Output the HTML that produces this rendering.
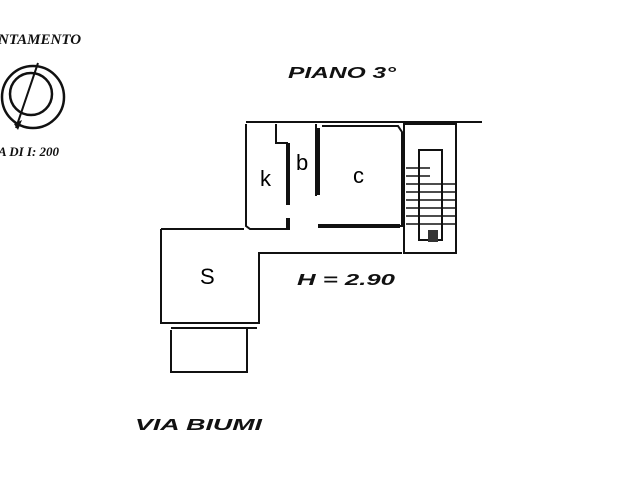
<!DOCTYPE html>
<html><head><style>
html,body{margin:0;padding:0;background:#fff;width:640px;height:480px;overflow:hidden}
svg{display:block}
</style></head><body>
<svg width="640" height="480" viewBox="0 0 640 480" xmlns="http://www.w3.org/2000/svg">
<g font-family="Liberation Serif, serif" font-style="italic" font-weight="bold" fill="#111">
<text x="-2" y="44" font-size="15">NTAMENTO</text>
<text x="-2" y="156" font-size="13">A DI I: 200</text>
</g>
<g fill="none" stroke="#111" stroke-width="2.5">
<circle cx="33" cy="97" r="31"/>
<circle cx="31" cy="94" r="21"/>
<line x1="38" y1="63" x2="16" y2="128" stroke-width="2"/>
</g>
<polygon points="14,124 22,120 18,130" fill="#111"/>
<g font-family="Liberation Sans, sans-serif" font-style="italic" font-weight="bold" fill="#111">
<text x="288" y="78" font-size="16" textLength="108" lengthAdjust="spacingAndGlyphs">PIANO 3°</text>
<text x="297" y="285" font-size="16" textLength="98" lengthAdjust="spacingAndGlyphs">H =  2.90</text>
<text x="135" y="430" font-size="16" textLength="127" lengthAdjust="spacingAndGlyphs">VIA BIUMI</text>
</g>
<g fill="none" stroke="#111" stroke-width="2">
<line x1="246" y1="122" x2="482" y2="122"/>
<path d="M246,124 V226 L250,229 H288"/>
<path d="M161,229 H244"/>
<path d="M161,229 V323 H259 V253 H402"/>
<path d="M276,124 V143 H287 V196"/>
<path d="M316,124 V196"/>
<path d="M322,126 H398 L402,132 V226 H318"/>
<rect x="404" y="124" width="52" height="129"/>
<rect x="419" y="150" width="23" height="90"/>
<path d="M171,330 V372 H247 V328"/>
<line x1="171" y1="328" x2="257" y2="328"/>
</g>
<g stroke="#111" stroke-width="4">
<line x1="288" y1="143" x2="288" y2="205"/>
<line x1="318" y1="128" x2="318" y2="195"/>
<line x1="288" y1="218" x2="288" y2="230"/>
<line x1="318" y1="226" x2="400" y2="226"/>
</g>
<g stroke="#111" stroke-width="1.5">
<line x1="406" y1="168" x2="430" y2="168"/>
<line x1="406" y1="176" x2="430" y2="176"/>
<line x1="406" y1="184" x2="455" y2="184"/>
<line x1="406" y1="192" x2="455" y2="192"/>
<line x1="406" y1="200" x2="455" y2="200"/>
<line x1="406" y1="208" x2="455" y2="208"/>
<line x1="406" y1="216" x2="455" y2="216"/>
<line x1="406" y1="224" x2="455" y2="224"/>
</g>
<rect x="428" y="230" width="10" height="12" fill="#333"/>
<g font-family="Liberation Sans, sans-serif" font-size="22" fill="#000">
<text x="260" y="186">k</text>
<text x="296" y="170">b</text>
<text x="353" y="183">c</text>
<text x="200" y="284">S</text>
</g>
</svg>
</body></html>
